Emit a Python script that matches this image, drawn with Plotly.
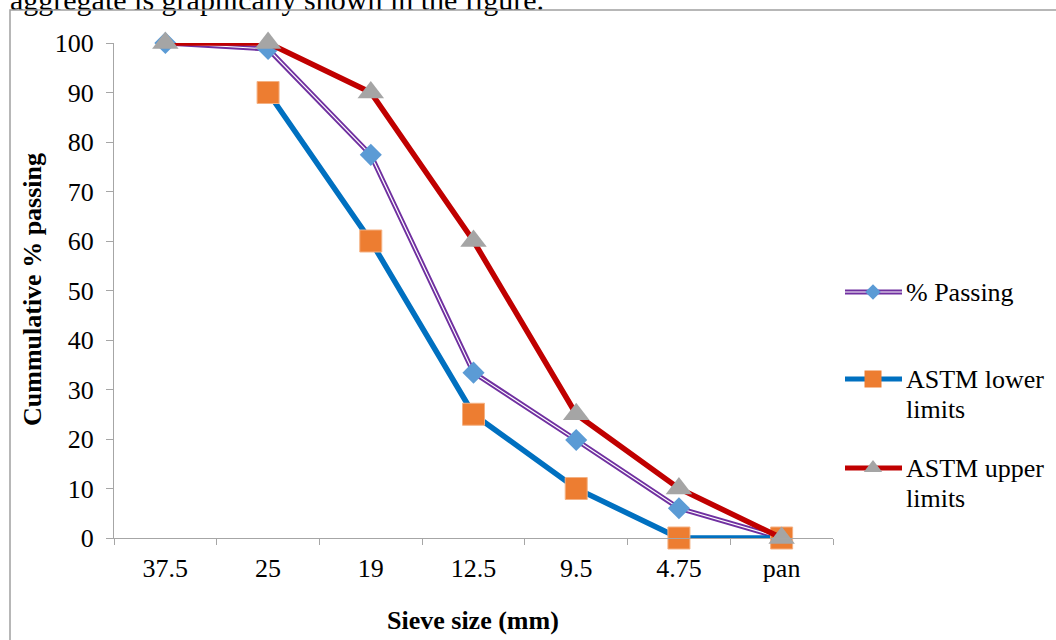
import plotly.graph_objects as go

# Sieve analysis data (cumulative % passing)
sieve = ["37.5", "25", "19", "12.5", "9.5", "4.75", "pan"]
passing = [100, 98.8, 77.4, 33.4, 19.8, 6.0, 0]
lower = [None, 90, 60, 25, 10, 0, 0]
upper = [100, 100, 90, 60, 25, 10, 0]
y_ticks = [0, 10, 20, 30, 40, 50, 60, 70, 80, 90, 100]

W, H = 1056, 640
PX0, PX1, PY0, PY1 = 114, 833, 43, 538  # plot area in pixels
FONT = "Liberation Serif"
AXIS_GRAY = "#A6A6A6"

PURPLE, DIAMOND = "#7030A0", "#5B9BD5"
BLUE, ORANGE = "#0070C0", "#ED7D31"
RED, GRAY = "#C00000", "#A5A5A5"


def fx(px):
    return px / W


def fy(py):
    return 1 - py / H


fig = go.Figure()

# % Passing: purple double line with blue diamonds
fig.add_trace(go.Scatter(x=sieve, y=passing, mode="lines",
                         line=dict(color=PURPLE, width=5), showlegend=False))
fig.add_trace(go.Scatter(x=sieve, y=passing, mode="lines",
                         line=dict(color="white", width=1.2), showlegend=False))
fig.add_trace(go.Scatter(x=sieve, y=passing, mode="markers",
                         marker=dict(symbol="diamond", size=17, color=DIAMOND),
                         cliponaxis=False, showlegend=False))
# ASTM lower limits
fig.add_trace(go.Scatter(x=sieve, y=lower, mode="lines+markers",
                         line=dict(color=BLUE, width=5.5),
                         marker=dict(symbol="square", size=22, color=ORANGE,
                                     line=dict(color="#F4B183", width=1)),
                         cliponaxis=False, showlegend=False))
# ASTM upper limits
fig.add_trace(go.Scatter(x=sieve, y=upper, mode="lines+markers",
                         line=dict(color=RED, width=5.5),
                         marker=dict(symbol="triangle-up", size=23, color=GRAY),
                         cliponaxis=False, showlegend=False))

# Legend glyphs and page text on a full-figure pixel overlay
leg_x0, leg_x1, leg_xm = 845, 902, 873
leg_rows = [292, 379, 468]

overlay = dict(xaxis="x2", yaxis="y2", showlegend=False, hoverinfo="skip")
fig.add_trace(go.Scatter(x=[leg_x0, leg_x1], y=[leg_rows[0]] * 2, mode="lines",
                         line=dict(color=PURPLE, width=5), **overlay))
fig.add_trace(go.Scatter(x=[leg_x0, leg_x1], y=[leg_rows[0]] * 2, mode="lines",
                         line=dict(color="white", width=1.2), **overlay))
fig.add_trace(go.Scatter(x=[leg_xm], y=[leg_rows[0]], mode="markers",
                         marker=dict(symbol="diamond", size=12, color=DIAMOND), **overlay))
fig.add_trace(go.Scatter(x=[leg_x0, leg_x1], y=[leg_rows[1]] * 2, mode="lines",
                         line=dict(color=BLUE, width=5), **overlay))
fig.add_trace(go.Scatter(x=[leg_xm], y=[leg_rows[1]], mode="markers",
                         marker=dict(symbol="square", size=17, color=ORANGE), **overlay))
fig.add_trace(go.Scatter(x=[leg_x0, leg_x1], y=[leg_rows[2]] * 2, mode="lines",
                         line=dict(color=RED, width=5), **overlay))
fig.add_trace(go.Scatter(x=[leg_xm], y=[leg_rows[2]], mode="markers",
                         marker=dict(symbol="triangle-up", size=16, color=GRAY), **overlay))

tick_font = dict(family=FONT, size=26, color="black")

# Body text line above the chart frame (partly off the top edge)
fig.add_trace(go.Scatter(x=[10], y=[2], mode="text",
                         text=["aggregate is graphically shown in the figure."],
                         textposition="middle right",
                         textfont=dict(family=FONT, size=30, color="black"),
                         cliponaxis=False, **overlay))

annotations = []
leg_text = [("% Passing", leg_rows[0]), ("ASTM lower", leg_rows[1]),
            ("limits", leg_rows[1] + 30), ("ASTM upper", leg_rows[2]),
            ("limits", leg_rows[2] + 30)]
for txt, py in leg_text:
    annotations.append(dict(text=txt, x=fx(904), y=fy(py), xref="paper", yref="paper",
                            xanchor="left", yanchor="middle", showarrow=False,
                            font=tick_font))

annotations.append(dict(text="<b>Sieve size (mm)</b>", x=fx(473), y=fy(620),
                        xref="paper", yref="paper", xanchor="center", yanchor="middle",
                        showarrow=False, font=tick_font))
annotations.append(dict(text="<b>Cummulative % passing</b>", x=fx(32), y=fy(290),
                        xref="paper", yref="paper", xanchor="center", yanchor="middle",
                        textangle=-90, showarrow=False, font=tick_font))

fig.update_layout(
    width=W, height=H,
    margin=dict(l=0, r=0, t=0, b=0, pad=0, autoexpand=False),
    paper_bgcolor="white",
    plot_bgcolor="rgba(0,0,0,0)",
    showlegend=False,
    xaxis=dict(type="category", domain=[fx(PX0), fx(PX1)], range=[-0.5, 6.5],
               anchor="y", showline=True, linecolor=AXIS_GRAY, linewidth=1,
               ticks="outside", tickson="boundaries", ticklen=6, tickcolor=AXIS_GRAY,
               ticklabelstandoff=7, automargin=False,
               showgrid=False, zeroline=False, tickfont=tick_font),
    yaxis=dict(domain=[fy(PY1), fy(PY0)], range=[0, 100], anchor="x",
               tickvals=y_ticks, showline=True, linecolor=AXIS_GRAY, linewidth=1,
               ticks="outside", ticklen=7, tickcolor=AXIS_GRAY,
               ticklabelstandoff=7, automargin=False,
               showgrid=False, zeroline=False, tickfont=tick_font),
    xaxis2=dict(domain=[0, 1], range=[0, W], anchor="y2", visible=False,
                fixedrange=True),
    yaxis2=dict(domain=[0, 1], range=[H, 0], anchor="x2", visible=False,
                fixedrange=True),
    annotations=annotations,
    shapes=[dict(type="rect", xref="paper", yref="paper",
                 x0=fx(10), x1=fx(W + 20), y0=fy(H + 20), y1=fy(10),
                 line=dict(color="#A0A0A0", width=1.5))],
)

fig.write_html("out.html")
